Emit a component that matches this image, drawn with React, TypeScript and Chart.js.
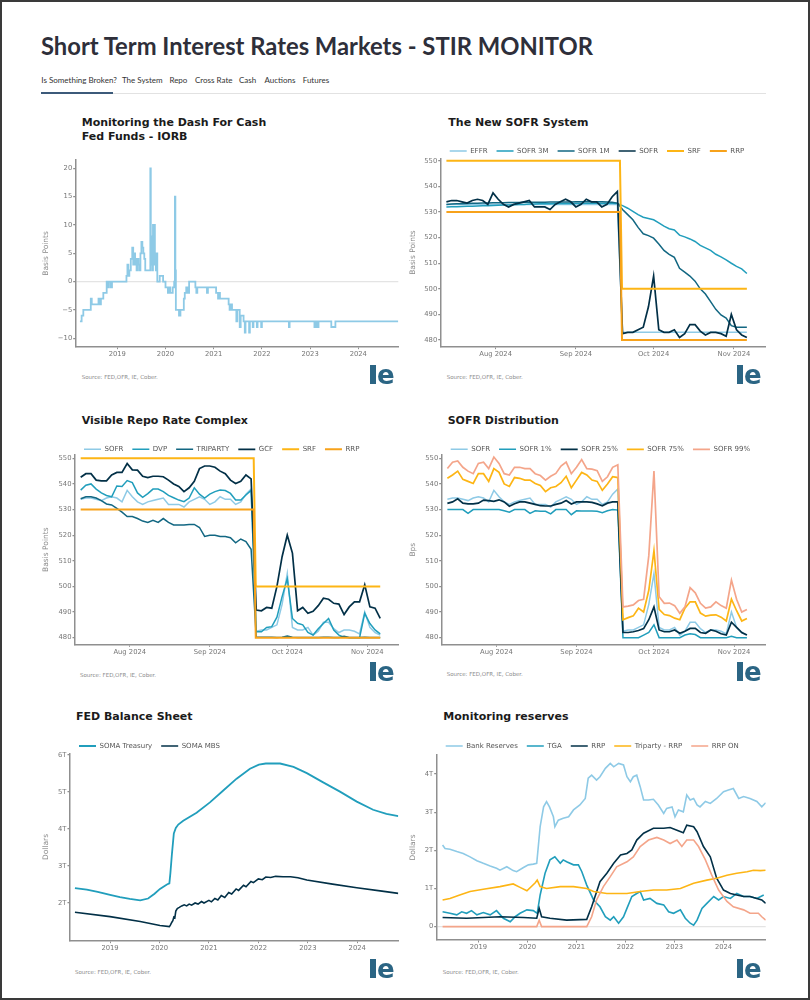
import React, { useEffect, useLayoutEffect, useRef, useState } from 'react';
import { Chart, registerables } from 'chart.js';

Chart.register(...registerables);

const FONT = "'DejaVu Sans', Verdana, sans-serif";
Chart.defaults.font.family = FONT;

const COL = {
  light: '#8ecae6',
  teal: '#219ebc',
  dteal: '#126782',
  navy: '#023047',
  yellow: '#fdb515',
  orange: '#f7a21b',
  salmon: '#f4a58a',
};

// ---------- Chart 1: Fed Funds - IORB (bps), step series ----------
const iorbYears = [
  2018.225, 2018.26, 2018.295, 2018.45, 2018.47, 2018.61, 2018.635, 2018.66, 2018.71, 2018.78,
  2018.80, 2018.82, 2018.86, 2018.89, 2019.19, 2019.21, 2019.23, 2019.25, 2019.28, 2019.31,
  2019.33, 2019.35, 2019.37, 2019.39, 2019.40, 2019.42, 2019.44, 2019.46, 2019.48, 2019.50,
  2019.52, 2019.54, 2019.56, 2019.58, 2019.685, 2019.695, 2019.71, 2019.725, 2019.74, 2019.75,
  2019.765, 2019.78, 2019.80, 2019.815, 2019.83, 2019.88, 2019.95, 2020.0, 2020.05, 2020.08,
  2020.10, 2020.15, 2020.18, 2020.195, 2020.205, 2020.215, 2020.28, 2020.31, 2020.38, 2020.40,
  2020.43, 2020.46, 2020.49, 2020.62, 2020.64, 2020.66, 2020.86, 2020.88, 2021.05, 2021.09,
  2021.11, 2021.13, 2021.31, 2021.33, 2021.36, 2021.38, 2021.47, 2021.49, 2021.54, 2021.56,
  2021.62, 2021.645, 2021.66, 2021.735, 2021.75, 2021.81, 2021.825, 2021.895, 2021.91, 2021.985,
  2022.0, 2022.56, 2022.575, 2023.09, 2023.125, 2023.14, 2023.175, 2023.44, 2023.525, 2024.83,
];
const iorbBps = [
  -7, -6, -5, -3, -4, -3, -4, -3, -2, 0,
  -1, 0, -1, 0, 1, 3, 1, 2, 4, 6,
  3, 5, 3, 4, 2, 4, 3, 2, 5, 7,
  6, 5, 4, 2, 20, 3, 8, 2, 10, 3,
  10, 5, 2, 5, 0, 1, 0, -1, -2, -1,
  -2, -1, 0, 15, 2, -5, -6, -5, -3, -2,
  -1, -2, 0, -1, -2, -1, -2, -1, -2, -3,
  -2, -3, -4, -5, -4, -5, -7, -5, -8, -6,
  -7, -9, -7, -9, -7, -8, -7, -8, -7, -8,
  -7, -8, -7, -8, -7, -8, -7, -8, -7, -7,
];
const yearTicks = [2019, 2020, 2021, 2022, 2023, 2024];

// ---------- Charts 2-4: daily rates, x = days since 1 Aug 2024 ----------
const days = [
  -19, -17, -15, -13, -11, -9, -7, -5, -3, -1,
  1, 3, 5, 7, 9, 11, 13, 15, 17, 19,
  21, 23, 25, 27, 29, 31, 33, 35, 37, 39,
  41, 43, 45, 47,
  49, 51, 53, 55, 57, 59, 61, 63, 65, 67,
  69, 71, 73, 75, 77, 79, 81, 83, 85, 87,
  89, 91, 93, 95, 97,
];
const monthTicks = [0, 31, 61, 92];
const monthLabels = ['Aug 2024', 'Sep 2024', 'Oct 2024', 'Nov 2024'];

const effr = [
  533, 533, 533, 533, 533, 533, 533, 533, 533, 533,
  533, 533, 533, 533, 533, 533, 533, 533, 533, 533,
  533, 533, 533, 533, 533, 533, 533, 533, 533, 533,
  533, 533, 533, 533,
  483, 483, 483, 483, 483, 483, 483, 483, 483, 483,
  483, 483, 483, 483, 483, 483, 483, 483, 483, 483,
  483, 483, 483, 483, 483,
];
const sofr = [
  534, 534.5, 534.5, 534, 533.5, 534.5, 535, 534.5, 533, 537.5,
  535, 533, 532, 533, 533.5, 534, 534.5, 532, 532, 532,
  531, 533, 534, 535, 534, 532, 533, 535, 534, 534,
  532, 533, 536, 538,
  482.5, 483, 483, 484, 485, 493, 505, 484, 483, 483,
  484, 481, 482.5, 486, 486, 483.5, 482, 483, 483, 482.5,
  481.5, 490, 484, 482, 481,
];
const sofr3m = [
  532, 532.1, 532.1, 532.2, 532.3, 532.3, 532.4, 532.5, 532.5, 532.6,
  532.7, 532.8, 532.8, 532.9, 533, 533, 533.1, 533.1, 533.2, 533.2,
  533.2, 533.3, 533.3, 533.3, 533.3, 533.4, 533.4, 533.4, 533.4, 533.4,
  533.4, 533.4, 533.4, 533.3,
  532.5, 531.5, 530.3, 529, 528, 527.5, 527, 525.8, 524.5, 523.5,
  523, 521, 520.3, 519.5, 518.5, 517, 516, 515, 513.5, 512.5,
  511.3, 510, 508.8, 507.8, 506,
];
const sofr1m = [
  533, 533.1, 533.2, 533.2, 533.3, 533.4, 533.4, 533.5, 533.5, 533.6,
  533.6, 533.6, 533.7, 533.7, 533.7, 533.8, 533.8, 533.8, 533.8, 533.8,
  533.9, 533.9, 533.9, 533.9, 533.9, 534, 534, 534, 534, 534,
  534, 533.9, 533.8, 533.5,
  531, 529, 527, 524, 521.5, 520.8, 519.8, 517.5, 515, 513.5,
  512.3, 508, 506.5, 505, 503, 500, 498, 495, 492, 489.8,
  488.6, 485.6, 485, 485, 485,
];
const policyDays = [-19, 48, 48.8, 97];
const srfRate = [550, 550, 500, 500];
const rrpRate = [530, 530, 480, 480];

const dvp = [
  537.6, 539.5, 540, 538, 536.5, 535.5, 535, 539.2, 539, 541.3,
  540.5, 536.5, 534.8, 536.2, 538, 538, 537, 535.5, 534.6, 533.7,
  533.1, 534.5, 538.5, 536, 534.5, 536, 537, 537.6, 537.4, 536.3,
  533.7, 533.7, 535.7, 537.5,
  482.3, 482.3, 484, 484.3, 488, 496, 503, 487.5, 485.6, 485,
  482, 481, 483.5, 485.5, 487.5, 483, 481, 480.2, 480, 480,
  480, 489.5, 485.5, 483, 481.5,
];
const triparty = [
  534.2, 535, 535, 534.5, 533.5, 532.2, 531.8, 530.5, 529, 527.3,
  527.3, 526.5, 525.5, 525, 525.8, 525, 526.5, 525, 524, 524,
  524, 524.2, 524.2, 523, 519.5, 520, 520, 519.5, 519.5, 519,
  517, 518.5, 517.5, 514.5,
  480.2, 480.2, 480.2, 480.2, 480.1, 480.2, 480.6, 480.2, 480.1, 480.1,
  480.1, 480.1, 480.1, 480.2, 480.2, 480.1, 480.1, 480.5, 480.1, 480.1,
  480.1, 480.2, 480.1, 480.1, 480.1,
];
const gcf = [
  542.6, 544, 544, 541.5, 541.2, 541.2, 543.5, 544.5, 544.5, 548,
  545.5, 545.4, 543, 542.5, 543, 543, 542.8, 541.5, 540, 539,
  537, 538.5, 541, 546, 547, 547, 546.5, 545, 544, 541.5,
  540.2, 541, 543.5, 542,
  490.8, 490.5, 491.8, 491.5, 500, 511.6, 520, 513, 490.5, 491.8,
  489.5, 490.3, 492.5, 495.4, 495, 493.4, 493.1, 489, 492, 494,
  494, 500.6, 492, 491.5, 487.5,
];

const sofrP1 = [
  530, 530, 530, 530, 528.5, 530, 530, 530, 530, 530,
  530, 529.5, 529, 530, 530, 530, 528.5, 529.5, 529.3, 529.3,
  528.3, 530, 530, 530, 528, 529.5, 529.4, 529.4, 529.4, 529.3,
  528.8, 529.5, 530, 529.8,
  480, 480, 480, 480, 481, 482, 485, 480, 480, 480,
  480, 480, 481, 481.5, 481.2, 480, 480, 480, 480, 480,
  480, 480.5, 480, 480, 480,
];
const sofrP25 = [
  532.4, 533, 534.2, 532.5, 532.2, 532.2, 532.5, 533.7, 533.5, 533.2,
  533.8, 533, 531.3, 532.3, 533, 533, 532.5, 532, 531.5, 531.4,
  531.4, 532, 532.5, 533.5, 532.2, 533, 533, 533, 532.8, 532.2,
  531.5, 532.5, 533, 533,
  482, 482, 482.3, 482.8, 483.5, 487, 492, 483, 482.3, 482.3,
  483, 481.7, 482.5, 483.6, 483.6, 482, 481.7, 483, 482.5, 481.5,
  481, 486, 484, 482, 481,
];
const sofrP75 = [
  542.2, 543.5, 545, 541.8, 541, 540.2, 544, 544, 541, 546,
  544.5, 540, 539, 542.5, 542.2, 541.5, 541.5, 540.2, 539.4, 537,
  538.5, 539, 540.5, 543, 538.5, 541.5, 544.5, 543.5, 541.5, 541,
  537.5, 540, 542.8, 542.5,
  487, 487.8, 488.5, 491.5, 490, 498.5, 514, 491, 489, 488.6,
  487.6, 487, 491.5, 494, 494, 489.6, 488.4, 488.8, 488.9, 488,
  486.5, 495, 490.5, 486.5, 487.5,
];
const sofrP99 = [
  546, 548.5, 549, 546.5, 545, 544, 548, 548.5, 546, 550.5,
  548, 544, 543.5, 546.5, 546.5, 546, 546, 544, 543.3, 541.5,
  543, 544.1, 547, 548.5, 544, 546.5, 549.5, 546, 545.8, 545.2,
  541, 542.8, 546.5, 547.5,
  492, 492.3, 492.8, 494.5, 495, 512, 545, 496, 493.4, 493.5,
  492.5, 489.5, 492, 499.5, 497.5, 493.4, 491.5, 492, 494, 492.5,
  491.5, 502.5, 495, 490, 491,
];

// ---------- Chart 5: FED balance sheet (trillions) ----------
const tsyYears = [
  2018.29, 2018.53, 2018.75, 2019.0, 2019.2, 2019.4, 2019.61, 2019.77, 2019.9, 2020.01,
  2020.15, 2020.2, 2020.22, 2020.25, 2020.29, 2020.33, 2020.38, 2020.48, 2020.75, 2021.02,
  2021.29, 2021.56, 2021.83, 2022.01, 2022.15, 2022.44, 2022.71, 2022.98, 2023.31, 2023.65,
  2023.99, 2024.32, 2024.59, 2024.83,
];
const tsyVals = [
  2.40, 2.36, 2.30, 2.22, 2.16, 2.11, 2.07, 2.12, 2.25, 2.38,
  2.50, 2.53, 2.8, 3.3, 3.88, 4.03, 4.12, 4.22, 4.44, 4.72,
  5.04, 5.36, 5.63, 5.74, 5.77, 5.77, 5.68, 5.51, 5.26, 5.01,
  4.74, 4.52, 4.41, 4.35,
];
const mbsYears = [
  2018.29, 2019.0, 2019.61, 2020.01, 2020.2, 2020.22, 2020.25, 2020.27, 2020.29, 2020.31,
  2020.33, 2020.36, 2020.4, 2020.45, 2020.5, 2020.55, 2020.6, 2020.65, 2020.72, 2020.78,
  2020.85, 2020.9, 2021.0, 2021.05, 2021.12, 2021.18, 2021.25, 2021.32, 2021.4, 2021.46,
  2021.55, 2021.6, 2021.7, 2021.75, 2021.85, 2021.9, 2022.0, 2022.08, 2022.15, 2022.25,
  2022.35, 2022.5, 2022.65, 2022.8, 2022.98, 2023.5, 2023.99, 2024.5, 2024.83,
];
const mbsVals = [
  1.75, 1.63, 1.50, 1.39, 1.36, 1.40, 1.48, 1.52, 1.62, 1.60,
  1.78, 1.85, 1.88, 1.92, 1.95, 1.92, 1.97, 1.94, 2.0, 1.97,
  2.04, 2.0, 2.07, 2.03, 2.12, 2.08, 2.2, 2.15, 2.28, 2.24,
  2.38, 2.34, 2.48, 2.44, 2.58, 2.55, 2.65, 2.63, 2.7, 2.69,
  2.72, 2.71, 2.71, 2.68, 2.62, 2.51, 2.41, 2.32, 2.26,
];

// ---------- Chart 6: Monitoring reserves (trillions) ----------
const resYears = [
  2018.27, 2018.32, 2018.42, 2018.56, 2018.69, 2018.83, 2018.97, 2019.10, 2019.24, 2019.37,
  2019.44, 2019.58, 2019.71, 2019.78, 2019.92, 2020.02, 2020.12, 2020.19, 2020.26, 2020.33,
  2020.39, 2020.45, 2020.53, 2020.56, 2020.63, 2020.73, 2020.84, 2020.94, 2021.07, 2021.18,
  2021.24, 2021.31, 2021.41, 2021.48, 2021.59, 2021.69, 2021.76, 2021.86, 2021.96, 2022.03,
  2022.10, 2022.16, 2022.23, 2022.30, 2022.37, 2022.47, 2022.57, 2022.67, 2022.78, 2022.84,
  2022.95, 2023.01, 2023.08, 2023.18, 2023.25, 2023.32, 2023.39, 2023.46, 2023.52, 2023.63,
  2023.73, 2023.86, 2024.00, 2024.10, 2024.20, 2024.31, 2024.41, 2024.54, 2024.68, 2024.78,
  2024.86,
];
const resVals = [
  2.14, 2.05, 2.03, 1.97, 1.92, 1.83, 1.73, 1.66, 1.59, 1.53,
  1.48, 1.57, 1.47, 1.44, 1.55, 1.62, 1.64, 1.66, 2.62, 3.14,
  3.28, 3.14, 2.88, 2.62, 2.79, 2.84, 2.88, 3.06, 3.19, 3.36,
  3.89, 3.97, 3.84, 3.93, 4.15, 4.28, 4.19, 4.28, 4.24, 3.93,
  3.80, 3.93, 3.97, 3.67, 3.32, 3.32, 3.34, 3.19, 2.97, 3.10,
  3.14, 2.88, 3.06, 3.01, 3.45, 3.32, 3.36, 3.19, 3.14, 3.28,
  3.23, 3.36, 3.54, 3.58, 3.62, 3.36, 3.41, 3.36, 3.28, 3.14,
  3.25,
];
const tgaYears = [
  2018.27, 2018.42, 2018.56, 2018.66, 2018.76, 2018.86, 2018.97, 2019.10, 2019.24, 2019.37,
  2019.51, 2019.65, 2019.75, 2019.85, 2019.99, 2020.12, 2020.20, 2020.26, 2020.36, 2020.46,
  2020.56, 2020.67, 2020.73, 2020.80, 2020.94, 2021.04, 2021.11, 2021.21, 2021.35, 2021.48,
  2021.59, 2021.69, 2021.76, 2021.86, 2021.96, 2022.03, 2022.13, 2022.23, 2022.30, 2022.37,
  2022.50, 2022.64, 2022.78, 2022.88, 2022.98, 2023.12, 2023.22, 2023.32, 2023.39, 2023.46,
  2023.56, 2023.66, 2023.80, 2023.90, 2024.00, 2024.14, 2024.27, 2024.41, 2024.54, 2024.68,
  2024.82,
];
const tgaVals = [
  0.39, 0.35, 0.31, 0.39, 0.35, 0.42, 0.31, 0.37, 0.31, 0.42,
  0.22, 0.13, 0.26, 0.35, 0.44, 0.42, 0.35, 0.83, 1.40, 1.75,
  1.83, 1.66, 1.75, 1.70, 1.62, 1.62, 1.44, 1.09, 0.70, 0.52,
  0.26, 0.17, 0.26, 0.09, 0.26, 0.48, 0.79, 0.87, 0.92, 0.70,
  0.74, 0.61, 0.57, 0.39, 0.35, 0.44, 0.22, 0.09, 0.04, 0.17,
  0.48, 0.61, 0.79, 0.70, 0.79, 0.74, 0.87, 0.79, 0.79, 0.74,
  0.83,
];
const rrpYears = [
  2018.27, 2018.76, 2019.44, 2019.92, 2020.19, 2020.24, 2020.29, 2020.46, 2020.80, 2021.21,
  2021.31, 2021.48, 2021.62, 2021.76, 2021.90, 2022.03, 2022.13, 2022.23, 2022.37, 2022.57,
  2022.78, 2022.91, 2023.05, 2023.18, 2023.25, 2023.39, 2023.46, 2023.59, 2023.73, 2023.86,
  2024.00, 2024.14, 2024.27, 2024.41, 2024.54, 2024.68, 2024.78, 2024.86,
];
const rrpVals = [
  0.24, 0.22, 0.26, 0.24, 0.22, 0.48, 0.26, 0.22, 0.17, 0.19,
  0.52, 1.18, 1.40, 1.66, 1.88, 1.92, 2.01, 2.27, 2.45, 2.58,
  2.58, 2.60, 2.53, 2.46, 2.66, 2.62, 2.49, 2.10, 1.83, 1.27,
  0.96, 0.87, 0.83, 0.79, 0.79, 0.74, 0.70, 0.61,
];
const triYears = [
  2018.27, 2018.42, 2018.62, 2018.83, 2019.10, 2019.44, 2019.71, 2019.85, 2019.99, 2020.16,
  2020.20, 2020.26, 2020.39, 2020.67, 2020.94, 2021.21, 2021.35, 2021.62, 2022.03, 2022.30,
  2022.57, 2022.84, 2023.12, 2023.39, 2023.66, 2023.86, 2024.07, 2024.27, 2024.48, 2024.61,
  2024.75, 2024.86,
];
const triVals = [
  0.70, 0.74, 0.83, 0.92, 0.98, 1.05, 1.12, 1.03, 0.94, 1.15,
  1.22, 1.05, 1.00, 1.05, 1.05, 1.00, 0.92, 0.87, 0.87, 0.92,
  0.96, 0.96, 1.00, 1.14, 1.22, 1.27, 1.35, 1.40, 1.44, 1.48,
  1.47, 1.48,
];
const rrpOnYears = [
  2018.27, 2020.19, 2020.24, 2020.29, 2021.21, 2021.31, 2021.41, 2021.55, 2021.69, 2021.82,
  2022.03, 2022.16, 2022.30, 2022.47, 2022.64, 2022.78, 2022.91, 2023.05, 2023.15, 2023.25,
  2023.39, 2023.49, 2023.63, 2023.76, 2023.90, 2024.07, 2024.20, 2024.41, 2024.54, 2024.71,
  2024.78, 2024.86,
];
const rrpOnVals = [
  0, 0, 0.17, 0, 0, 0.26, 0.70, 1.05, 1.31, 1.57,
  1.70, 1.83, 2.10, 2.27, 2.34, 2.27, 2.18, 2.27, 2.10, 2.27,
  2.27, 2.10, 1.75, 1.35, 0.96, 0.66, 0.52, 0.44, 0.35, 0.35,
  0.26, 0.17,
];

// ---------- helpers ----------
const pts = (xs: number[], ys: number[]) => xs.map((x, i) => ({ x, y: ys[i] }));
const fmtMonth = (v: number) => {
  const i = monthTicks.indexOf(v);
  return i >= 0 ? monthLabels[i] : '';
};
const fmtYear = (v: number) => String(v);
const fmtBps = (v: number) => (v < 0 ? '\u2212' + Math.abs(v) : String(v));
const fmtT = (v: number) => (v === 0 ? '0' : v + 'T');

type Spec = {
  box: [number, number, number, number];
  plot: [number, number, number, number];
  legendY?: number;
  yTitle: string;
  yTitleX: number;
  yMin: number;
  yMax: number;
  yTicks: number[];
  yFmt: (v: number) => string;
  xMin: number;
  xMax: number;
  xTicks: number[];
  xFmt: (v: number) => string;
  zero?: boolean;
  datasets: any[];
};

function buildConfig(s: Spec): any {
  const [cl, ct, cw, ch] = s.box;
  const [pl, pt, pr, pb] = s.plot;
  const LP = 9;
  const LF = 7;
  const XH = 14;
  const hasLegend = s.legendY !== undefined;
  let padTop: number;
  let legendH = 0;
  if (hasLegend) {
    padTop = (s.legendY as number) - ct - LP - LF / 2;
    legendH = pt - ct - padTop;
  } else {
    padTop = pt - ct;
  }
  const yW = pl - cl;
  const axisCol = '#8f8f8f';
  const tickFont = { family: FONT, size: 6.8 };
  const titleSize = 7.5;
  const legendFix = {
    id: 'legendFix',
    afterInit(chart: any) {
      const lg = chart.legend;
      if (!lg) return;
      const orig = lg.fit.bind(lg);
      lg.fit = () => {
        orig();
        lg.height = legendH;
      };
    },
  };
  return {
    type: 'line',
    data: {
      datasets: s.datasets.map((d, i) => ({
        pointRadius: 0,
        pointHoverRadius: 0,
        borderWidth: 1.5,
        fill: false,
        tension: 0,
        order: -i,
        backgroundColor: d.borderColor,
        ...d,
      })),
    },
    options: {
      responsive: false,
      animation: false,
      events: [],
      layout: {
        padding: { left: 0, top: padTop, right: cl + cw - pr, bottom: ct + ch - pb - XH },
      },
      plugins: {
        legend: hasLegend
          ? {
              display: true,
              position: 'top',
              align: 'start',
              fullSize: false,
              labels: {
                usePointStyle: true,
                pointStyle: 'line',
                pointStyleWidth: 17,
                boxHeight: LF,
                padding: LP,
                color: '#555',
                font: { family: FONT, size: LF },
                sort: (a: any, b: any) => a.datasetIndex - b.datasetIndex,
              },
            }
          : { display: false },
        tooltip: { enabled: false },
      },
      scales: {
        x: {
          type: 'linear',
          min: s.xMin,
          max: s.xMax,
          bounds: 'data',
          afterBuildTicks: (ax: any) => {
            ax.ticks = s.xTicks.map((v) => ({ value: v }));
          },
          afterFit: (ax: any) => {
            ax.height = XH;
          },
          ticks: {
            autoSkip: false,
            maxRotation: 0,
            padding: 1,
            color: '#777',
            font: tickFont,
            callback: (v: any) => s.xFmt(Number(v)),
          },
          grid: { display: true, drawOnChartArea: false, tickLength: 2.5, tickColor: axisCol },
          border: { display: true, color: axisCol, width: 1.5 },
        },
        y: {
          type: 'linear',
          min: s.yMin,
          max: s.yMax,
          bounds: 'data',
          afterBuildTicks: (ax: any) => {
            ax.ticks = s.yTicks.map((v) => ({ value: v }));
          },
          afterFit: (ax: any) => {
            ax.width = yW;
          },
          ticks: {
            autoSkip: false,
            padding: 1,
            color: '#777',
            font: tickFont,
            callback: (v: any) => s.yFmt(Number(v)),
          },
          grid: {
            display: true,
            drawOnChartArea: true,
            tickLength: 2.5,
            tickColor: axisCol,
            lineWidth: 1.2,
            color: (c: any) =>
              s.zero && c.tick && c.tick.value === 0 ? '#e4e4e4' : 'rgba(0,0,0,0)',
          },
          border: { display: true, color: axisCol, width: 1.5 },
          title: {
            display: true,
            text: s.yTitle,
            color: '#8a8a8a',
            font: { family: FONT, size: titleSize, lineHeight: 1 },
            padding: { top: s.yTitleX - cl - titleSize / 2, bottom: 0 },
          },
        },
      },
    },
    plugins: [legendFix],
  };
}

function ChartBox({ spec }: { spec: Spec }) {
  const ref = useRef<HTMLCanvasElement | null>(null);
  useEffect(() => {
    if (!ref.current) return;
    const chart = new Chart(ref.current, buildConfig(spec));
    return () => chart.destroy();
  }, []);
  const [l, t, w, h] = spec.box;
  return (
    <canvas
      ref={ref}
      width={w}
      height={h}
      style={{ position: 'absolute', left: l, top: t, width: w, height: h }}
    />
  );
}

const dayRange = { xMin: -21.2, xMax: 104, xTicks: monthTicks, xFmt: fmtMonth };
const bpTicks = [480, 490, 500, 510, 520, 530, 540, 550];

const specs: Spec[] = [
  {
    box: [30, 150, 372, 220],
    plot: [75.7, 160, 398.3, 346.7],
    yTitle: 'Basis Points',
    yTitleX: 46,
    yMin: -11.48,
    yMax: 21.46,
    yTicks: [-10, -5, 0, 5, 10, 15, 20],
    yFmt: fmtBps,
    xMin: 2018.137,
    xMax: 2024.83,
    xTicks: yearTicks,
    xFmt: fmtYear,
    zero: true,
    datasets: [
      { label: 'FF - IORB', data: pts(iorbYears, iorbBps), borderColor: COL.light, stepped: true, borderWidth: 1.8 },
    ],
  },
  {
    box: [402, 139, 370, 231],
    plot: [440.7, 158.3, 765, 346.7],
    legendY: 151,
    yTitle: 'Basis Points',
    yTitleX: 413.5,
    yMin: 477.4,
    yMax: 551,
    yTicks: bpTicks,
    yFmt: fmtYear,
    ...dayRange,
    datasets: [
      { label: 'EFFR', data: pts(days, effr), borderColor: COL.light },
      { label: 'SOFR 3M', data: pts(days, sofr3m), borderColor: COL.teal },
      { label: 'SOFR 1M', data: pts(days, sofr1m), borderColor: COL.dteal },
      { label: 'SOFR', data: pts(days, sofr), borderColor: COL.navy, borderWidth: 1.7 },
      { label: 'SRF', data: pts(policyDays, srfRate), borderColor: COL.yellow, borderWidth: 2 },
      { label: 'RRP', data: pts(policyDays, rrpRate), borderColor: COL.orange, borderWidth: 2 },
    ],
  },
  {
    box: [30, 436, 372, 231],
    plot: [75, 455, 398.3, 644.3],
    legendY: 449.3,
    yTitle: 'Basis Points',
    yTitleX: 46,
    yMin: 477.4,
    yMax: 551.3,
    yTicks: bpTicks,
    yFmt: fmtYear,
    ...dayRange,
    datasets: [
      { label: 'SOFR', data: pts(days, sofr), borderColor: COL.light },
      { label: 'DVP', data: pts(days, dvp), borderColor: COL.teal },
      { label: 'TRIPARTY', data: pts(days, triparty), borderColor: COL.dteal },
      { label: 'GCF', data: pts(days, gcf), borderColor: COL.navy, borderWidth: 1.7 },
      { label: 'SRF', data: pts(policyDays, srfRate), borderColor: COL.yellow, borderWidth: 2 },
      { label: 'RRP', data: pts(policyDays, rrpRate), borderColor: COL.orange, borderWidth: 2 },
    ],
  },
  {
    box: [402, 436, 370, 231],
    plot: [441.7, 455, 765, 644.3],
    legendY: 449.3,
    yTitle: 'Bps',
    yTitleX: 413.3,
    yMin: 477.4,
    yMax: 551.3,
    yTicks: bpTicks,
    yFmt: fmtYear,
    ...dayRange,
    datasets: [
      { label: 'SOFR', data: pts(days, sofr), borderColor: COL.light },
      { label: 'SOFR 1%', data: pts(days, sofrP1), borderColor: COL.teal },
      { label: 'SOFR 25%', data: pts(days, sofrP25), borderColor: COL.navy, borderWidth: 1.7 },
      { label: 'SOFR 75%', data: pts(days, sofrP75), borderColor: COL.yellow, borderWidth: 1.7 },
      { label: 'SOFR 99%', data: pts(days, sofrP99), borderColor: COL.salmon, borderWidth: 1.7 },
    ],
  },
  {
    box: [30, 733, 372, 231],
    plot: [70, 753.3, 398.3, 940.7],
    legendY: 746,
    yTitle: 'Dollars',
    yTitleX: 46,
    yMin: 0.98,
    yMax: 6.046,
    yTicks: [2, 3, 4, 5, 6],
    yFmt: fmtT,
    xMin: 2018.19,
    xMax: 2024.83,
    xTicks: yearTicks,
    xFmt: fmtYear,
    datasets: [
      { label: 'SOMA Treasury', data: pts(tsyYears, tsyVals), borderColor: COL.teal, borderWidth: 1.8 },
      { label: 'SOMA MBS', data: pts(mbsYears, mbsVals), borderColor: COL.navy, borderWidth: 1.6 },
    ],
  },
  {
    box: [402, 733, 370, 231],
    plot: [436.7, 755, 765.7, 940],
    legendY: 746,
    yTitle: 'Dollars',
    yTitleX: 413.3,
    yMin: -0.35,
    yMax: 4.5,
    yTicks: [0, 1, 2, 3, 4],
    yFmt: fmtT,
    xMin: 2018.15,
    xMax: 2024.86,
    xTicks: yearTicks,
    xFmt: fmtYear,
    zero: true,
    datasets: [
      { label: 'Bank Reserves', data: pts(resYears, resVals), borderColor: COL.light, borderWidth: 1.6 },
      { label: 'TGA', data: pts(tgaYears, tgaVals), borderColor: COL.teal, borderWidth: 1.6 },
      { label: 'RRP', data: pts(rrpYears, rrpVals), borderColor: COL.navy, borderWidth: 1.6 },
      { label: 'Triparty - RRP', data: pts(triYears, triVals), borderColor: COL.yellow, borderWidth: 1.6 },
      { label: 'RRP ON', data: pts(rrpOnYears, rrpOnVals), borderColor: COL.salmon, borderWidth: 1.6 },
    ],
  },
];

const chartTitles: { x: number; y: number; text: string }[] = [
  { x: 81.7, y: 123.3, text: 'Monitoring the Dash For Cash' },
  { x: 81.7, y: 137.3, text: 'Fed Funds - IORB' },
  { x: 448.3, y: 123.3, text: 'The New SOFR System' },
  { x: 81.7, y: 420.7, text: 'Visible Repo Rate Complex' },
  { x: 447.7, y: 420.7, text: 'SOFR Distribution' },
  { x: 76, y: 717.3, text: 'FED Balance Sheet' },
  { x: 443.3, y: 717.3, text: 'Monitoring reserves' },
];
const sources: { x: number; y: number }[] = [
  { x: 81.7, y: 376.7 },
  { x: 446.7, y: 376.7 },
  { x: 80, y: 675 },
  { x: 446.7, y: 674 },
  { x: 75, y: 971.7 },
  { x: 442.7, y: 971.7 },
];
const logos: { x: number; y: number }[] = [
  { x: 370, y: 365 },
  { x: 737, y: 365 },
  { x: 370, y: 662 },
  { x: 737, y: 662 },
  { x: 370, y: 959 },
  { x: 737, y: 959 },
];
const tabs: { x: number; text: string }[] = [
  { x: 41.3, text: 'Is Something Broken?' },
  { x: 121.9, text: 'The System' },
  { x: 169.4, text: 'Repo' },
  { x: 195, text: 'Cross Rate' },
  { x: 239, text: 'Cash' },
  { x: 264.5, text: 'Auctions' },
  { x: 302.7, text: 'Futures' },
];

function FitText({ text, width, style }: { text: string; width: number; style: React.CSSProperties }) {
  const ref = useRef<HTMLSpanElement | null>(null);
  const [sx, setSx] = useState(1);
  useLayoutEffect(() => {
    if (ref.current) {
      const w = ref.current.getBoundingClientRect().width;
      if (w > 0) setSx(width / w);
    }
  }, []);
  return (
    <span
      ref={ref}
      style={{ ...style, display: 'inline-block', whiteSpace: 'nowrap', transform: `scaleX(${sx})`, transformOrigin: '0 0' }}
    >
      {text}
    </span>
  );
}

function Logo({ x, y }: { x: number; y: number }) {
  const c = '#2b6584';
  return (
    <div style={{ position: 'absolute', left: x, top: y, width: 26, height: 20 }}>
      <div style={{ position: 'absolute', left: 0, top: 0, width: 6, height: 19, background: c }} />
      <div
        style={{
          position: 'absolute',
          left: 7,
          top: -3,
          fontFamily: FONT,
          fontWeight: 700,
          fontSize: 26,
          lineHeight: '26px',
          color: c,
        }}
      >
        e
      </div>
    </div>
  );
}

export default function App() {
  return (
    <div
      style={{
        position: 'absolute',
        left: 0,
        top: 0,
        width: 810,
        height: 1000,
        background: '#ffffff',
        overflow: 'hidden',
      }}
    >
      <div style={{ position: 'absolute', left: 41, top: 33.7, lineHeight: '24px' }}>
        <FitText
          text="Short Term Interest Rates Markets - STIR MONITOR"
          width={552}
          style={{ fontFamily: 'Lato, sans-serif', fontWeight: 700, fontSize: 24, lineHeight: '24px', color: '#2e2f3a' }}
        />
      </div>
      {tabs.map((t) => (
        <div
          key={t.text}
          style={{
            position: 'absolute',
            left: t.x,
            top: 75,
            fontFamily: 'Lato, sans-serif',
            fontSize: 8,
            lineHeight: '11px',
            color: '#333',
            whiteSpace: 'nowrap',
          }}
        >
          {t.text}
        </div>
      ))}
      <div style={{ position: 'absolute', left: 41, top: 92.5, width: 725, height: 1, background: '#e2e2e2' }} />
      <div style={{ position: 'absolute', left: 41, top: 92, width: 72, height: 2, background: '#3c5a7a' }} />

      {specs.map((s, i) => (
        <ChartBox key={i} spec={s} />
      ))}

      {chartTitles.map((t) => (
        <div
          key={t.text}
          style={{
            position: 'absolute',
            left: t.x,
            top: t.y - 7,
            fontFamily: FONT,
            fontWeight: 700,
            fontSize: 11,
            lineHeight: '14px',
            color: '#1b1b1b',
            whiteSpace: 'nowrap',
          }}
        >
          {t.text}
        </div>
      ))}
      {sources.map((s, i) => (
        <div
          key={i}
          style={{
            position: 'absolute',
            left: s.x,
            top: s.y - 4,
            fontFamily: FONT,
            fontSize: 5.5,
            lineHeight: '8px',
            color: '#8a8a8a',
            whiteSpace: 'nowrap',
          }}
        >
          Source: FED,OFR, IE, Cober.
        </div>
      ))}
      {logos.map((l, i) => (
        <Logo key={i} x={l.x} y={l.y} />
      ))}
      <div
        style={{
          position: 'absolute',
          left: 0,
          top: 0,
          width: 810,
          height: 1000,
          boxSizing: 'border-box',
          border: '2px solid #3a3a3a',
          pointerEvents: 'none',
        }}
      />
    </div>
  );
}
